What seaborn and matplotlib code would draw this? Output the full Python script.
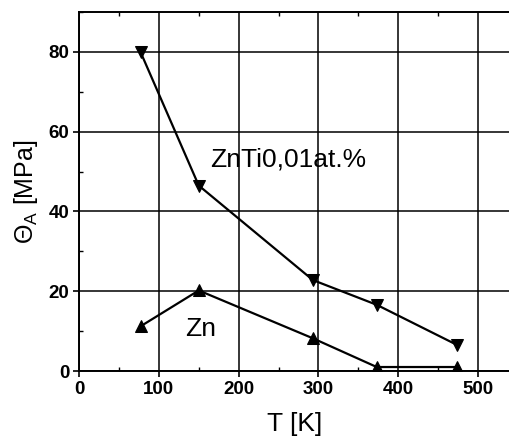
import matplotlib
matplotlib.use("Agg")
import matplotlib.pyplot as plt
import seaborn as sns
import pandas as pd
from matplotlib.ticker import MultipleLocator

# Temperature [K] and Theta_A [MPa]
temp_znti = [77, 150, 293, 373, 473]
theta_znti = [80, 46.5, 22.8, 16.6, 6.6]
temp_zn = [77, 150, 293, 373, 473]
theta_zn = [11.2, 20.2, 8.2, 1.0, 1.0]

x_ticks = [0, 100, 200, 300, 400, 500]
y_ticks = [0, 20, 40, 60, 80]

sns.set_theme(style="white")
plt.rcParams["font.family"] = ["Liberation Sans", "DejaVu Sans"]
plt.rcParams["mathtext.fontset"] = "custom"
plt.rcParams["mathtext.rm"] = "Liberation Sans"
for key in ["text.color", "axes.labelcolor", "xtick.color", "ytick.color"]:
    plt.rcParams[key] = "black"

fig = plt.figure(figsize=(5.10, 4.47), dpi=100)
ax = fig.add_axes([0.155, 0.17, 0.845, 0.803])

df_znti = pd.DataFrame({"T": temp_znti, "theta": theta_znti})
df_zn = pd.DataFrame({"T": temp_zn, "theta": theta_zn})

sns.lineplot(data=df_znti, x="T", y="theta", ax=ax, color="black", lw=1.6,
             marker="v", markersize=9, markeredgecolor="black", markerfacecolor="black")
sns.lineplot(data=df_zn, x="T", y="theta", ax=ax, color="black", lw=1.6,
             marker="^", markersize=9, markeredgecolor="black", markerfacecolor="black")

ax.set_xlim(0, 540)
ax.set_ylim(0, 90)
ax.set_xticks(x_ticks)
ax.set_yticks(y_ticks)
ax.xaxis.set_minor_locator(MultipleLocator(50))
ax.yaxis.set_minor_locator(MultipleLocator(10))
ax.grid(True, which="major", color="black", lw=1.1)
ax.tick_params(which="major", direction="out", length=4, width=1.2, color="black",
               labelcolor="black", labelsize=13.5, bottom=True, left=True, pad=3)
ax.tick_params(which="minor", direction="in", length=3, width=1.0, color="black",
               bottom=True, left=True, top=True)
for lab in ax.get_xticklabels() + ax.get_yticklabels():
    lab.set_fontweight("bold")

for side in ["left", "bottom", "top"]:
    ax.spines[side].set_color("black")
    ax.spines[side].set_linewidth(1.4)
ax.spines["right"].set_visible(False)

ax.set_xlabel("T [K]", fontsize=19, labelpad=10, color="black")
ax.set_ylabel(r"$\Theta_{\mathrm{A}}$ [MPa]", fontsize=18, labelpad=6, color="black")

ax.text(164, 53, "ZnTi0,01at.%", fontsize=19, ha="left", va="center", color="black")
ax.text(133, 10.5, "Zn", fontsize=19, ha="left", va="center", color="black")

fig.savefig("out.png", dpi=100)
